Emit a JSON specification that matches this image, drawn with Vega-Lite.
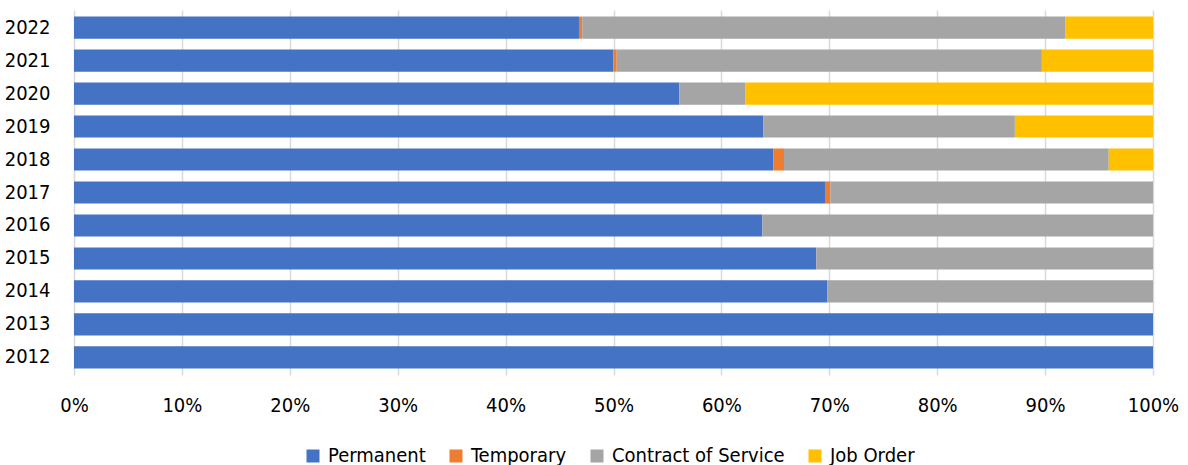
{
  "$schema": "https://vega.github.io/schema/vega-lite/v6.json",
  "autosize": {"type": "none"},
  "padding": {"left": 74, "top": 10, "right": 35, "bottom": 90},
  "width": 1079,
  "height": 365,
  "background": "white",
  "config": {
    "view": {"stroke": null},
    "font": "DejaVu Sans Condensed, Liberation Sans",
    "axis": {"labelFont": "DejaVu Sans Condensed, Liberation Sans", "labelColor": "#000000"},
    "legend": {"labelFont": "DejaVu Sans Condensed, Liberation Sans", "labelColor": "#000000"}
  },
  "data": {
    "values": [
      {"year": "2022", "type": "Permanent", "share": 46.8},
      {"year": "2022", "type": "Temporary", "share": 0.3},
      {"year": "2022", "type": "Contract of Service", "share": 44.8},
      {"year": "2022", "type": "Job Order", "share": 8.1},
      {"year": "2021", "type": "Permanent", "share": 50.0},
      {"year": "2021", "type": "Temporary", "share": 0.3},
      {"year": "2021", "type": "Contract of Service", "share": 39.4},
      {"year": "2021", "type": "Job Order", "share": 10.3},
      {"year": "2020", "type": "Permanent", "share": 56.1},
      {"year": "2020", "type": "Temporary", "share": 0},
      {"year": "2020", "type": "Contract of Service", "share": 6.1},
      {"year": "2020", "type": "Job Order", "share": 37.8},
      {"year": "2019", "type": "Permanent", "share": 63.9},
      {"year": "2019", "type": "Temporary", "share": 0},
      {"year": "2019", "type": "Contract of Service", "share": 23.3},
      {"year": "2019", "type": "Job Order", "share": 12.8},
      {"year": "2018", "type": "Permanent", "share": 64.8},
      {"year": "2018", "type": "Temporary", "share": 1.0},
      {"year": "2018", "type": "Contract of Service", "share": 30.1},
      {"year": "2018", "type": "Job Order", "share": 4.1},
      {"year": "2017", "type": "Permanent", "share": 69.6},
      {"year": "2017", "type": "Temporary", "share": 0.5},
      {"year": "2017", "type": "Contract of Service", "share": 29.9},
      {"year": "2017", "type": "Job Order", "share": 0},
      {"year": "2016", "type": "Permanent", "share": 63.8},
      {"year": "2016", "type": "Temporary", "share": 0},
      {"year": "2016", "type": "Contract of Service", "share": 36.2},
      {"year": "2016", "type": "Job Order", "share": 0},
      {"year": "2015", "type": "Permanent", "share": 68.8},
      {"year": "2015", "type": "Temporary", "share": 0},
      {"year": "2015", "type": "Contract of Service", "share": 31.2},
      {"year": "2015", "type": "Job Order", "share": 0},
      {"year": "2014", "type": "Permanent", "share": 69.8},
      {"year": "2014", "type": "Temporary", "share": 0},
      {"year": "2014", "type": "Contract of Service", "share": 30.2},
      {"year": "2014", "type": "Job Order", "share": 0},
      {"year": "2013", "type": "Permanent", "share": 100},
      {"year": "2013", "type": "Temporary", "share": 0},
      {"year": "2013", "type": "Contract of Service", "share": 0},
      {"year": "2013", "type": "Job Order", "share": 0},
      {"year": "2012", "type": "Permanent", "share": 100},
      {"year": "2012", "type": "Temporary", "share": 0},
      {"year": "2012", "type": "Contract of Service", "share": 0},
      {"year": "2012", "type": "Job Order", "share": 0}
    ]
  },
  "transform": [
    {"calculate": "indexof(['Permanent','Temporary','Contract of Service','Job Order'], datum.type)", "as": "stackOrder"}
  ],
  "mark": {"type": "bar"},
  "encoding": {
    "y": {
      "field": "year",
      "type": "ordinal",
      "sort": "descending",
      "scale": {"paddingInner": 0.33, "paddingOuter": 0.2},
      "axis": {
        "title": null,
        "domain": false,
        "ticks": false,
        "labelFontSize": 20,
        "labelPadding": 24,
        "grid": false
      }
    },
    "x": {
      "field": "share",
      "type": "quantitative",
      "stack": "zero",
      "scale": {"domain": [0, 100], "nice": false},
      "axis": {
        "title": null,
        "values": [0, 10, 20, 30, 40, 50, 60, 70, 80, 90, 100],
        "labelExpr": "datum.value + '%'",
        "labelFlush": false,
        "domain": false,
        "ticks": false,
        "grid": true,
        "gridColor": "#d9d9d9",
        "gridWidth": 1.5,
        "labelFontSize": 20,
        "labelPadding": 20
      }
    },
    "order": {"field": "stackOrder", "type": "quantitative", "sort": "ascending"},
    "color": {
      "field": "type",
      "type": "nominal",
      "sort": ["Permanent", "Temporary", "Contract of Service", "Job Order"],
      "scale": {
        "domain": ["Permanent", "Temporary", "Contract of Service", "Job Order"],
        "range": ["#4472C4", "#ED7D31", "#A5A5A5", "#FFC000"]
      },
      "legend": {
        "title": null,
        "orient": "none",
        "direction": "horizontal",
        "legendX": 229,
        "legendY": 436,
        "symbolType": "square",
        "symbolSize": 169,
        "symbolStrokeWidth": 0,
        "labelFontSize": 20,
        "labelOffset": 5,
        "columnPadding": 20,
        "labelLimit": 300
      }
    }
  }
}
